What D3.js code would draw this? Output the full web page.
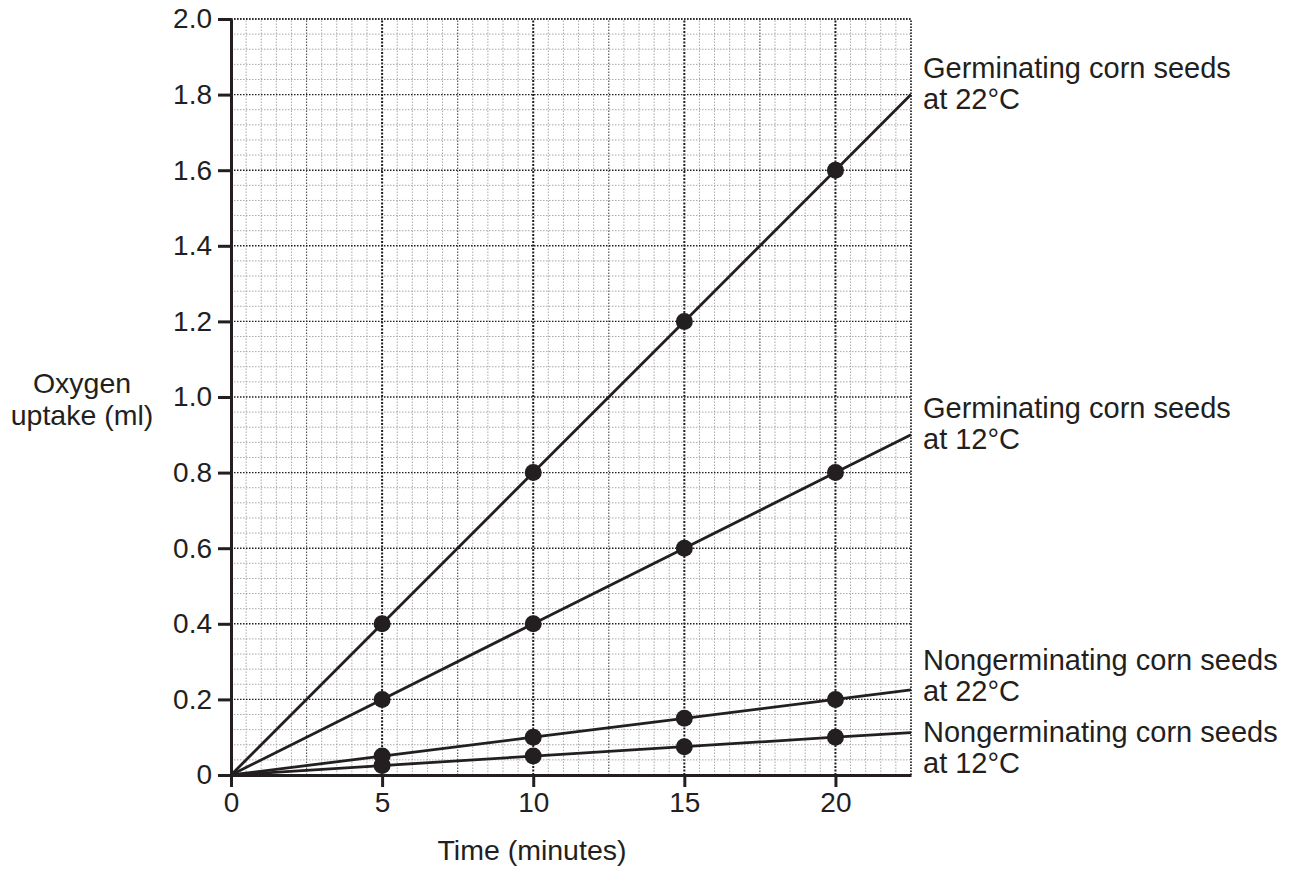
<!DOCTYPE html>
<html>
<head>
<meta charset="utf-8">
<script src="https://d3js.org/d3.v7.min.js"></script>
<style>
body { margin: 0; background: #fff; }
text { font-family: "Liberation Sans", Arial, sans-serif; fill: #231f20; }
.axis path, .axis line { stroke: #231f20; stroke-width: 3; }
.axis text { font-size: 28px; }
.grid-minor { stroke: #a8a8a8; stroke-width: 1; stroke-dasharray: 1.5,1.5; }
.grid-mid { stroke: #555; stroke-width: 1.2; stroke-dasharray: 1.5,1.5; }
.grid-major { stroke: #231f20; stroke-width: 1.4; stroke-dasharray: 1.5,1.5; }
.grid-major5 { stroke: #231f20; stroke-width: 2; stroke-dasharray: 2,1.5; }
.serie { fill: none; stroke: #231f20; stroke-width: 2.8; }
.point { fill: #231f20; }
.label { font-size: 29px; }
.titre { font-size: 28.5px; }
</style>
</head>
<body>
<div id="chart"></div>
<script>
/*global d3*/

// data
var times = [5, 10, 15, 20],
    germ22 = [0.4, 0.8, 1.2, 1.6],
    germ12 = [0.2, 0.4, 0.6, 0.8],
    nongerm22 = [0.05, 0.1, 0.15, 0.2],
    nongerm12 = [0.025, 0.05, 0.075, 0.1],
    // where each drawn line stops at the right edge (t = 22.5)
    lineEnd = [1.8, 0.9, 0.225, 0.112],
    seriesNames = [
        ["Germinating corn seeds", "at 22°C"],
        ["Germinating corn seeds", "at 12°C"],
        ["Nongerminating corn seeds", "at 22°C"],
        ["Nongerminating corn seeds", "at 12°C"]
    ],
    xTicks = [0, 5, 10, 15, 20],
    yTicks = [0, 0.2, 0.4, 0.6, 0.8, 1.0, 1.2, 1.4, 1.6, 1.8, 2.0];

var widthGlobal = 1295,
    heightGlobal = 869,
    xMax = 22.5,
    // label baselines (first line), in px
    labelY = [78, 418, 670, 742],

    x = d3.scaleLinear()
        .domain([0, xMax])
        .range([231, 911]),
    y = d3.scaleLinear()
        .domain([0, 2])
        .range([775, 19]),

    svg = d3.select("#chart")
        .append("svg")
        .attr("width", widthGlobal)
        .attr("height", heightGlobal);

var series = [germ22, germ12, nongerm22, nongerm12].map(function (vals, i) {
    return {
        points: times.map(function (t, j) { return {t: t, v: vals[j]}; }),
        line: [{t: 0, v: 0}].concat(times.map(function (t, j) { return {t: t, v: vals[j]}; }), [{t: xMax, v: lineEnd[i]}]),
        name: seriesNames[i],
        ly: labelY[i]
    };
});

// grid
var grid = svg.append("g");
var vSteps = d3.range(0, 46).map(function (i) { return i * 0.5; }),
    hSteps = d3.range(0, 51).map(function (i) { return i * 0.04; });

grid.selectAll(".v")
    .data(vSteps)
    .enter().append("line")
    .attr("class", function (d, i) {
        if (i % 10 == 0) { return "grid-major5"; }
        if (i % 5 == 0) { return "grid-mid"; }
        return "grid-minor";
    })
    .attr("x1", function (d) { return x(d); })
    .attr("x2", function (d) { return x(d); })
    .attr("y1", y(0))
    .attr("y2", y(2));
grid.selectAll(".h")
    .data(hSteps)
    .enter().append("line")
    .attr("class", function (d, i) { return i % 5 == 0 ? "grid-major" : "grid-minor"; })
    .attr("x1", x(0))
    .attr("x2", x(xMax))
    .attr("y1", function (d) { return y(d); })
    .attr("y2", function (d) { return y(d); });
// top and right borders
grid.append("line").attr("class", "grid-major")
    .attr("x1", x(0)).attr("x2", x(xMax)).attr("y1", y(2)).attr("y2", y(2));
grid.append("line").attr("class", "grid-major")
    .attr("x1", x(xMax)).attr("x2", x(xMax)).attr("y1", y(0)).attr("y2", y(2));

// axes
svg.append("g")
    .attr("class", "axis")
    .attr("transform", "translate(0," + y(0) + ")")
    .call(d3.axisBottom(x).tickValues(xTicks).tickSize(12).tickSizeOuter(0).tickPadding(5))
    .selectAll("text").attr("fill", "#231f20");
svg.append("g")
    .attr("class", "axis")
    .attr("transform", "translate(" + x(0) + ",0)")
    .call(d3.axisLeft(y).tickValues(yTicks).tickSize(13).tickSizeOuter(0).tickPadding(6))
    .selectAll("text").attr("fill", "#231f20").text(function (d) { return d == 0 ? "0" : d3.format(".1f")(d); });
svg.selectAll(".axis text").style("font-family", "'Liberation Sans', Arial, sans-serif");

// lines and points
var line = d3.line()
    .x(function (d) { return x(d.t); })
    .y(function (d) { return y(d.v); });

svg.append("g").selectAll(".serie")
    .data(series)
    .enter().append("path")
    .attr("class", "serie")
    .attr("d", function (d) { return line(d.line); });

svg.append("g").selectAll(".pts")
    .data(series)
    .enter().append("g")
    .selectAll("circle")
    .data(function (d) { return d.points; })
    .enter().append("circle")
    .attr("class", "point")
    .attr("cx", function (d) { return x(d.t); })
    .attr("cy", function (d) { return y(d.v); })
    .attr("r", 8.5);

// series labels
var lab = svg.append("g").selectAll(".label")
    .data(series)
    .enter().append("text")
    .attr("class", "label")
    .attr("x", 923)
    .attr("y", function (d) { return d.ly; });
lab.append("tspan")
    .attr("x", 923)
    .text(function (d) { return d.name[0]; });
lab.append("tspan")
    .attr("x", 923)
    .attr("dy", 31)
    .text(function (d) { return d.name[1]; });

// axis titles
svg.append("text")
    .attr("class", "titre")
    .attr("x", 532)
    .attr("y", 860)
    .attr("text-anchor", "middle")
    .text("Time (minutes)");
svg.append("text")
    .attr("class", "titre")
    .attr("x", 82)
    .attr("y", 393)
    .attr("text-anchor", "middle")
    .text("Oxygen");
svg.append("text")
    .attr("class", "titre")
    .attr("x", 82)
    .attr("y", 425)
    .attr("text-anchor", "middle")
    .text("uptake (ml)");
</script>
</body>
</html>
